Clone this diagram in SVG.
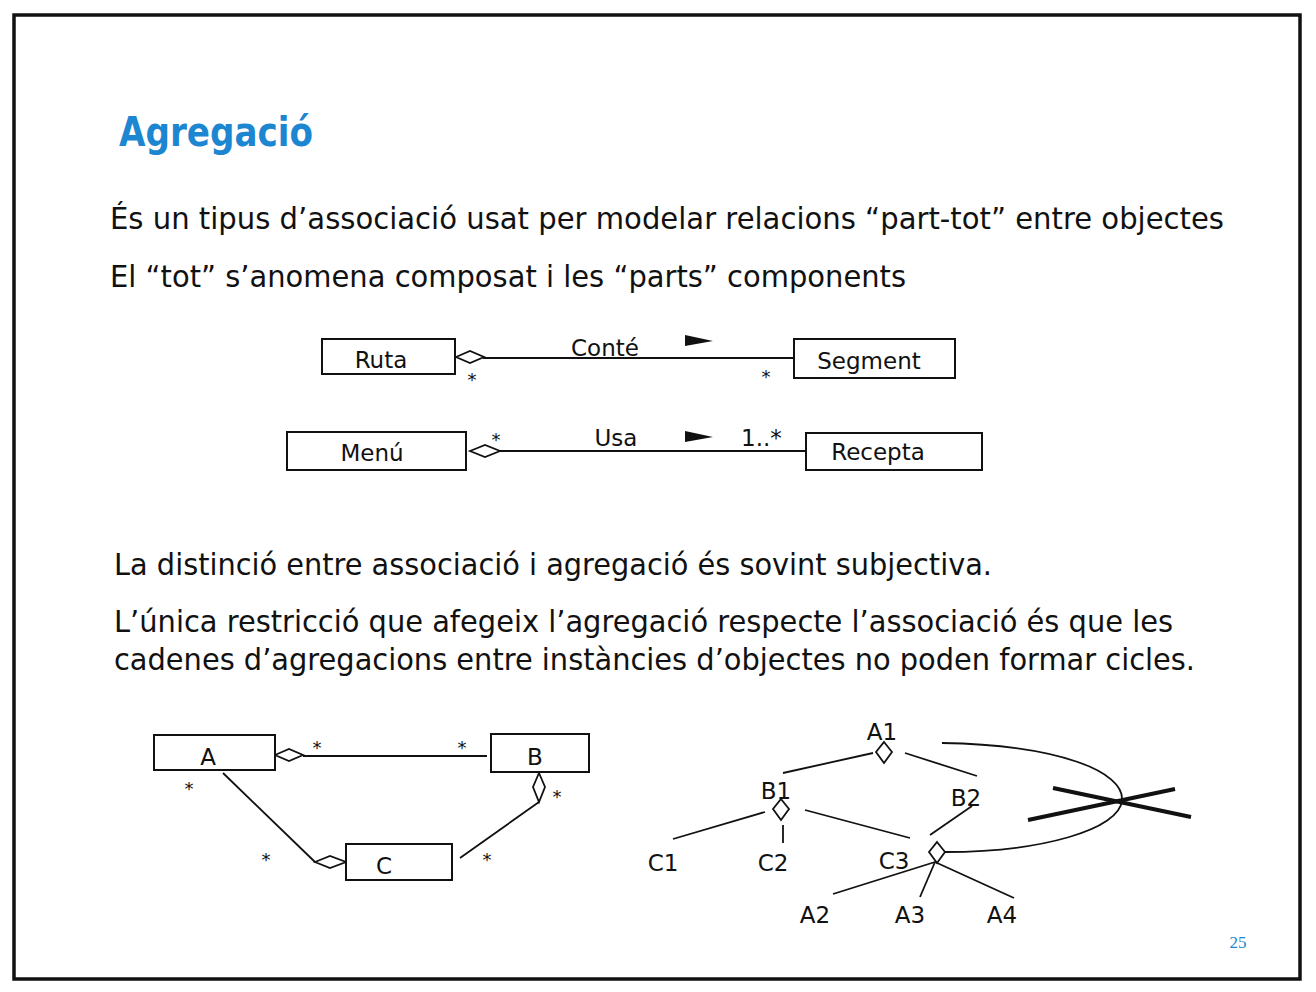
<svg xmlns="http://www.w3.org/2000/svg" width="1316" height="992" viewBox="0 0 1316 992">
<style>
.t{font-family:"DejaVu Sans","Liberation Sans",sans-serif;fill:#111}
.body{font-size:30px}
.lbl{font-size:23px}
.sm{font-size:18px}
.box{fill:#fff;stroke:#111;stroke-width:2}
.ln{stroke:#111;stroke-width:1.8;fill:none}
.dia{fill:#fff;stroke:#111;stroke-width:1.8}
</style>
<rect x="0" y="0" width="1316" height="992" fill="#fff"/>
<rect x="14" y="15" width="1286" height="964" fill="#fff" stroke="#111" stroke-width="3.5"/>
<text x="119" y="146" font-family="DejaVu Sans,Liberation Sans,sans-serif" font-weight="bold" font-size="41" fill="#1d86d1" textLength="194" lengthAdjust="spacingAndGlyphs">Agregació</text>
<g id="text">
<text class="t body" x="110" y="229" textLength="1114" lengthAdjust="spacingAndGlyphs">És un tipus d’associació usat per modelar relacions “part-tot” entre objectes</text>
<text class="t body" x="110" y="287" textLength="796" lengthAdjust="spacingAndGlyphs">El “tot” s’anomena composat i les “parts” components</text>
<text class="t body" x="114" y="575" textLength="878" lengthAdjust="spacingAndGlyphs">La distinció entre associació i agregació és sovint subjectiva.</text>
<text class="t body" x="114" y="632" textLength="1059" lengthAdjust="spacingAndGlyphs">L’única restricció que afegeix l’agregació respecte l’associació és que les</text>
<text class="t body" x="114" y="670" textLength="1081" lengthAdjust="spacingAndGlyphs">cadenes d’agregacions entre instàncies d’objectes no poden formar cicles.</text>
</g>
<g id="connectors">
<line class="ln" x1="483" y1="358" x2="794" y2="358"/>
<polygon class="dia" points="456,357 470,351 484,357 470,363"/>
<polygon points="685,335 713,341 685,346" fill="#111"/>
<line class="ln" x1="500" y1="451" x2="806" y2="451"/>
<polygon class="dia" points="470,451 485,445 500,451 485,457"/>
<polygon points="685,431 713,437 685,442" fill="#111"/>
<line class="ln" x1="303" y1="756" x2="487" y2="756"/>
<polygon class="dia" points="275,755 289,749 303,755 289,761"/>
<line class="ln" x1="539" y1="802" x2="460" y2="858"/>
<polygon class="dia" points="539,773 545,787 539,802 533,787"/>
<line class="ln" x1="223" y1="773" x2="315" y2="862"/>
<polygon class="dia" points="315,862 330,856 346,862 330,868"/>
<line class="ln" x1="873" y1="753" x2="783" y2="773"/>
<line class="ln" x1="905" y1="753" x2="977" y2="776"/>
<polygon class="dia" points="884,742 892,752 884,763 876,752"/>
<line class="ln" x1="765" y1="812" x2="673" y2="839"/>
<line class="ln" x1="783" y1="825" x2="783" y2="843"/>
<line class="ln" x1="805" y1="810" x2="910" y2="838"/>
<polygon class="dia" points="781,799 789,809 781,820 773,809"/>
<line class="ln" x1="972" y1="806" x2="930" y2="835"/>
<polygon class="dia" points="937,842 945,852 937,863 929,852"/>
<line class="ln" x1="935" y1="862" x2="833" y2="894"/>
<line class="ln" x1="935" y1="862" x2="920" y2="897"/>
<line class="ln" x1="935" y1="862" x2="1014" y2="898"/>
<path class="ln" d="M942,743 C1060,745 1124,772 1122,800 C1120,830 1040,852 945,852"/>
<line x1="1028" y1="820" x2="1175" y2="789" stroke="#111" stroke-width="4"/>
<line x1="1053" y1="788" x2="1191" y2="817" stroke="#111" stroke-width="4"/>
</g>
<g id="labels" class="t">
<text class="lbl" x="605" y="356" text-anchor="middle">Conté</text>
<text class="sm" x="472" y="386" text-anchor="middle">*</text>
<text class="sm" x="766" y="383" text-anchor="middle">*</text>
<text class="lbl" x="616" y="446" text-anchor="middle">Usa</text>
<text class="sm" x="496" y="446" text-anchor="middle">*</text>
<text class="lbl" x="741" y="446">1..*</text>
<text class="sm" x="317" y="754" text-anchor="middle">*</text>
<text class="sm" x="462" y="754" text-anchor="middle">*</text>
<text class="sm" x="557" y="803" text-anchor="middle">*</text>
<text class="sm" x="189" y="795" text-anchor="middle">*</text>
<text class="sm" x="266" y="866" text-anchor="middle">*</text>
<text class="sm" x="487" y="866" text-anchor="middle">*</text>
<text class="lbl" x="882" y="740" text-anchor="middle">A1</text>
<text class="lbl" x="776" y="799" text-anchor="middle">B1</text>
<text class="lbl" x="966" y="806" text-anchor="middle">B2</text>
<text class="lbl" x="663" y="871" text-anchor="middle">C1</text>
<text class="lbl" x="773" y="871" text-anchor="middle">C2</text>
<text class="lbl" x="894" y="869" text-anchor="middle">C3</text>
<text class="lbl" x="815" y="923" text-anchor="middle">A2</text>
<text class="lbl" x="910" y="923" text-anchor="middle">A3</text>
<text class="lbl" x="1002" y="923" text-anchor="middle">A4</text>
</g>
<g id="Ruta"><rect class="box" x="322" y="339" width="133" height="35"/><text class="t lbl" x="381" y="368" text-anchor="middle">Ruta</text></g>
<g id="Segment"><rect class="box" x="794" y="339" width="161" height="39"/><text class="t lbl" x="869" y="369" text-anchor="middle">Segment</text></g>
<g id="Menu"><rect class="box" x="287" y="432" width="179" height="38"/><text class="t lbl" x="372" y="461" text-anchor="middle">Menú</text></g>
<g id="Recepta"><rect class="box" x="806" y="433" width="176" height="37"/><text class="t lbl" x="878" y="460" text-anchor="middle">Recepta</text></g>
<g id="A"><rect class="box" x="154" y="735" width="121" height="35"/><text class="t lbl" x="208" y="765" text-anchor="middle">A</text></g>
<g id="B"><rect class="box" x="491" y="734" width="98" height="38"/><text class="t lbl" x="535" y="765" text-anchor="middle">B</text></g>
<g id="C"><rect class="box" x="346" y="844" width="106" height="36"/><text class="t lbl" x="384" y="874" text-anchor="middle">C</text></g>
<text x="1238" y="948" font-family="Liberation Serif,serif" font-size="17" fill="#1d86d1" text-anchor="middle">25</text>
</svg>
